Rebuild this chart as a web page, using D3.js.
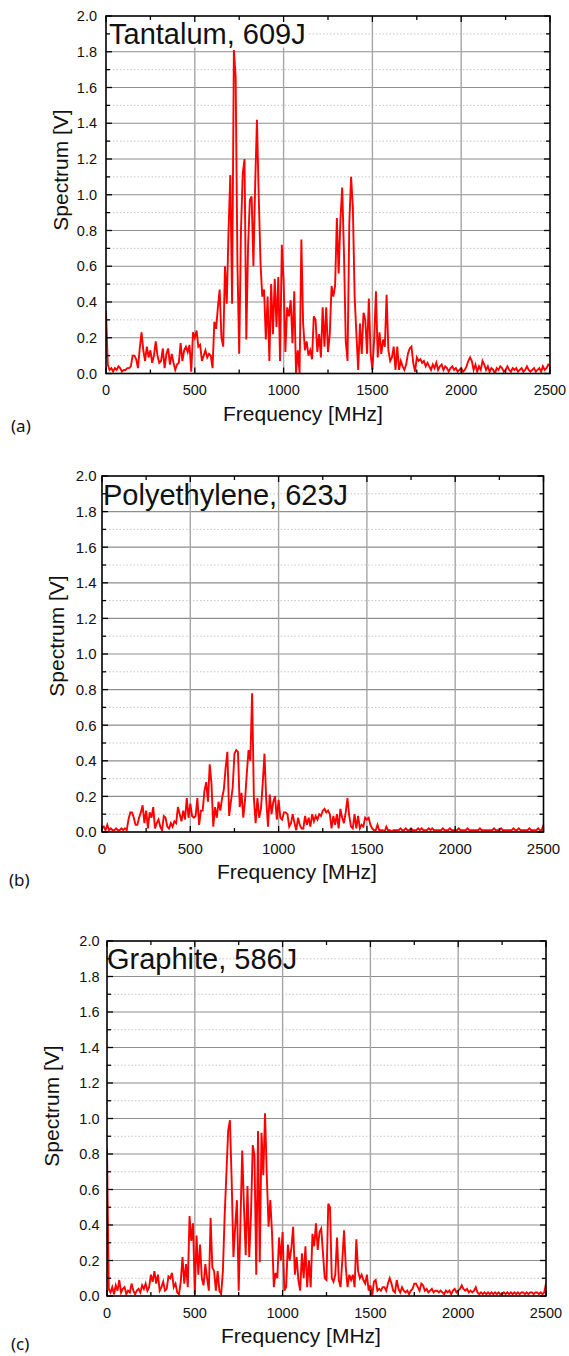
<!DOCTYPE html>
<html><head><meta charset="utf-8">
<script src="https://cdn.jsdelivr.net/npm/d3@7"></script>
<style>
body{margin:0;background:#fff}
svg{display:block}
text{font-family:"Liberation Sans",Arial,sans-serif;fill:#111}
</style>
</head><body>
<svg id="chart" width="569" height="1356"></svg>
<script>
// ---------------- DATA (spectrum values every 10 MHz, 0..2500 MHz) ----------------
const freqStepMHz = 10;

const tantalum = [
 0.35,0.05,0.02,0.03,0.01,0.03,0.02,0.04,0.03,0.01,
 0.02,0.02,0.03,0.03,0.04,0.10,0.10,0.08,0.03,0.14,
 0.23,0.13,0.07,0.15,0.09,0.13,0.06,0.10,0.18,0.10,
 0.06,0.07,0.14,0.03,0.11,0.14,0.05,0.11,0.06,0.02,
 0.05,0.06,0.17,0.07,0.13,0.15,0.12,0.16,0.01,0.23,
 0.20,0.24,0.15,0.16,0.07,0.10,0.13,0.09,0.11,0.10,
 0.03,0.29,0.25,0.37,0.47,0.20,0.15,0.60,0.39,0.80,
 1.11,0.39,1.81,1.66,0.62,0.11,0.80,1.12,1.20,0.19,
 0.71,0.97,0.99,0.60,1.06,1.42,0.99,0.62,0.43,0.47,
 0.19,0.43,0.07,0.50,0.22,0.53,0.26,0.54,0.07,0.72,
 0.52,0.12,0.37,0.32,0.41,0.17,0.46,0.00,0.13,0.00,
 0.75,0.28,0.13,0.18,0.10,0.13,0.08,0.32,0.30,0.12,
 0.22,0.09,0.37,0.15,0.37,0.12,0.22,0.49,0.43,0.49,
 0.87,0.56,0.86,1.04,0.67,0.18,0.07,0.84,1.10,0.93,
 0.43,0.22,0.02,0.28,0.11,0.34,0.30,0.11,0.42,0.11,
 0.02,0.19,0.46,0.09,0.23,0.11,0.19,0.15,0.44,0.13,
 0.07,0.09,0.15,0.02,0.15,0.02,0.07,0.04,0.02,0.05,
 0.11,0.14,0.15,0.06,0.01,0.09,0.07,0.08,0.06,0.07,
 0.04,0.06,0.04,0.02,0.05,0.03,0.06,0.02,0.04,0.05,
 0.02,0.04,0.03,0.01,0.03,0.04,0.02,0.03,0.01,0.02,
 0.03,0.01,0.02,0.04,0.07,0.09,0.07,0.02,0.05,0.01,
 0.04,0.02,0.07,0.05,0.02,0.04,0.01,0.03,0.02,0.00,
 0.03,0.02,0.04,0.03,0.01,0.02,0.04,0.02,0.01,0.03,
 0.02,0.03,0.01,0.02,0.03,0.01,0.02,0.04,0.02,0.01,
 0.02,0.03,0.01,0.02,0.03,0.01,0.04,0.02,0.03,0.05,
 0.04
];

const polyethylene = [
 0.02,0.03,0.01,0.04,0.01,0.02,0.01,0.01,0.02,0.01,
 0.01,0.02,0.01,0.02,0.01,0.07,0.11,0.11,0.08,0.04,
 0.04,0.08,0.11,0.15,0.05,0.12,0.02,0.11,0.08,0.14,
 0.02,0.05,0.07,0.03,0.01,0.09,0.08,0.03,0.02,0.05,
 0.03,0.06,0.05,0.14,0.10,0.06,0.12,0.07,0.19,0.08,
 0.16,0.09,0.08,0.09,0.19,0.04,0.12,0.12,0.23,0.28,
 0.17,0.38,0.27,0.03,0.14,0.08,0.17,0.12,0.19,0.24,
 0.36,0.45,0.09,0.17,0.25,0.44,0.46,0.45,0.14,0.22,
 0.08,0.18,0.33,0.46,0.40,0.78,0.19,0.05,0.19,0.08,
 0.13,0.27,0.44,0.18,0.03,0.21,0.10,0.17,0.20,0.07,
 0.18,0.08,0.07,0.11,0.11,0.10,0.03,0.05,0.10,0.05,
 0.01,0.08,0.04,0.02,0.02,0.09,0.04,0.08,0.03,0.10,
 0.06,0.09,0.07,0.10,0.09,0.12,0.13,0.11,0.12,0.10,
 0.02,0.09,0.04,0.10,0.02,0.13,0.08,0.05,0.11,0.19,
 0.09,0.03,0.02,0.10,0.02,0.09,0.02,0.04,0.03,0.08,
 0.07,0.08,0.04,0.02,0.01,0.01,0.04,0.01,0.01,0.01,
 0.00,0.03,0.01,0.01,0.00,0.01,0.01,0.01,0.01,0.02,
 0.01,0.01,0.02,0.01,0.01,0.02,0.01,0.01,0.01,0.02,
 0.01,0.02,0.01,0.01,0.01,0.02,0.01,0.02,0.01,0.01,
 0.01,0.01,0.01,0.02,0.01,0.01,0.01,0.02,0.01,0.01,
 0.01,0.01,0.02,0.01,0.01,0.01,0.01,0.02,0.01,0.01,
 0.01,0.01,0.01,0.01,0.02,0.01,0.01,0.01,0.01,0.01,
 0.01,0.01,0.02,0.01,0.01,0.01,0.02,0.01,0.01,0.01,
 0.01,0.01,0.01,0.02,0.01,0.01,0.02,0.01,0.01,0.01,
 0.01,0.01,0.02,0.01,0.01,0.01,0.01,0.02,0.01,0.01,
 0.04
];

const graphite = [
 0.83,0.04,0.02,0.05,0.01,0.06,0.03,0.09,0.02,0.04,
 0.05,0.01,0.03,0.02,0.07,0.03,0.01,0.03,0.04,0.02,
 0.06,0.04,0.07,0.03,0.05,0.12,0.08,0.14,0.07,0.12,
 0.03,0.05,0.08,0.03,0.04,0.11,0.10,0.13,0.05,0.07,
 0.02,0.01,0.08,0.22,0.07,0.18,0.05,0.45,0.31,0.41,
 0.01,0.34,0.12,0.29,0.10,0.06,0.18,0.10,0.03,0.44,
 0.16,0.14,0.03,0.14,0.03,0.01,0.14,0.45,0.69,0.93,
 0.99,0.65,0.22,0.39,0.54,0.03,0.42,0.82,0.50,0.23,
 0.62,0.22,0.46,0.85,0.79,0.12,0.93,0.19,0.92,0.68,
 1.03,0.68,0.39,0.54,0.35,0.05,0.13,0.10,0.33,0.20,
 0.36,0.03,0.05,0.29,0.20,0.27,0.39,0.12,0.22,0.09,
 0.03,0.24,0.10,0.28,0.05,0.20,0.05,0.35,0.28,0.41,
 0.26,0.36,0.38,0.24,0.10,0.09,0.52,0.50,0.10,0.08,
 0.12,0.33,0.09,0.05,0.20,0.37,0.16,0.05,0.12,0.09,
 0.12,0.05,0.32,0.14,0.10,0.12,0.09,0.07,0.12,0.03,
 0.06,0.00,0.08,0.09,0.03,0.04,0.03,0.05,0.05,0.03,
 0.07,0.10,0.07,0.03,0.02,0.09,0.04,0.02,0.05,0.03,
 0.02,0.03,0.01,0.03,0.04,0.07,0.07,0.05,0.03,0.07,
 0.06,0.03,0.04,0.02,0.03,0.04,0.02,0.03,0.03,0.02,
 0.03,0.02,0.01,0.03,0.02,0.03,0.01,0.03,0.04,0.02,
 0.03,0.04,0.06,0.04,0.03,0.04,0.02,0.03,0.02,0.03,
 0.05,0.02,0.01,0.02,0.01,0.02,0.01,0.02,0.01,0.02,
 0.01,0.02,0.01,0.02,0.01,0.01,0.02,0.01,0.02,0.01,
 0.02,0.01,0.02,0.01,0.02,0.01,0.02,0.02,0.01,0.02,
 0.01,0.02,0.02,0.01,0.02,0.02,0.01,0.02,0.01,0.02,
 0.07
];

const panelTitles = ["Tantalum, 609J", "Polyethylene, 623J", "Graphite, 586J"];
const panelTags = ["(a)", "(b)", "(c)"];
const xTickValues = [0, 500, 1000, 1500, 2000, 2500];
const yTickValues = [0.0, 0.2, 0.4, 0.6, 0.8, 1.0, 1.2, 1.4, 1.6, 1.8, 2.0];
const xAxisLabel = "Frequency [MHz]";
const yAxisLabel = "Spectrum [V]";

// ---------------- LAYOUT ----------------
const layout = [
  {L:106, R:550,   T:16,  B:373.5, box:true,  tx:109, ty:44,    ylx:68, yly:170,  xlx:303, xly:420.5, tagx:11, tagy:432,  gap:9,   fs:14.5},
  {L:102, R:543.5, T:476, B:832,   box:false, tx:103, ty:505,   ylx:64, yly:636,  xlx:297, xly:879,   tagx:9,  tagy:886,  gap:5.5, fs:15},
  {L:107, R:546,   T:941, B:1296,  box:false, tx:107, ty:968.5, ylx:59, yly:1106, xlx:301, xly:1343,  tagx:11, tagy:1350, gap:7.5, fs:14.5}
];
const series = [tantalum, polyethylene, graphite];

const svg = d3.select("#chart");
const fmt = d3.format(".1f");

series.forEach((vals, p) => {
  const c = layout[p];
  const x = d3.scaleLinear().domain([0, 2500]).range([c.L, c.R]);
  const y = d3.scaleLinear().domain([0, 2]).range([c.B, c.T]);
  const g = svg.append("g");

  const minorY = d3.range(1, 20, 2).map(k => k / 10);
  g.selectAll(".mg").data(minorY).join("line")
    .attr("x1", c.L).attr("x2", c.R).attr("y1", d => y(d)).attr("y2", d => y(d))
    .attr("stroke", "#c4c4c4").attr("stroke-width", 1).attr("stroke-dasharray", "1.5,2");
  g.selectAll(".hg").data(yTickValues.slice(1, -1)).join("line")
    .attr("x1", c.L).attr("x2", c.R).attr("y1", d => y(d)).attr("y2", d => y(d))
    .attr("stroke", "#8e8e8e").attr("stroke-width", 1.2);
  g.selectAll(".vg").data(xTickValues.slice(1, -1)).join("line")
    .attr("y1", c.T).attr("y2", c.B).attr("x1", d => x(d)).attr("x2", d => x(d))
    .attr("stroke", "#a6a6a6").attr("stroke-width", 1.4);

  const clipId = "clip" + p;
  svg.append("clipPath").attr("id", clipId).append("rect")
    .attr("x", c.L).attr("y", c.T).attr("width", c.R - c.L).attr("height", c.B - c.T);
  const line = d3.line().x((d, i) => x(i * freqStepMHz)).y(d => y(d));
  g.append("path").datum(vals).attr("d", line).attr("clip-path", `url(#${clipId})`)
    .attr("fill", "none").attr("stroke", "#ff0000").attr("stroke-width", 1.9)
    .attr("stroke-linejoin", "miter");

  const tg = g.append("g");
  const tt = tg.append("text").attr("x", c.tx).attr("y", c.ty)
    .attr("font-size", 29).text(panelTitles[p]);
  if (c.box) {
    const bb = tt.node().getBBox();
    tg.insert("rect", "text").attr("x", c.L + 1).attr("y", c.T + 1)
      .attr("width", bb.x + bb.width + 2 - c.L - 1).attr("height", c.ty + 3.5 - c.T - 1)
      .attr("fill", "#fff");
  }

  const xt = d3.range(0, 2501, 250);
  const yt = d3.range(0, 21).map(k => k / 10);
  const tk = g.append("g").attr("stroke", "#000").attr("stroke-width", 1.3);
  xt.forEach(v => {
    const len = (v % 500 === 0) ? 6 : 4;
    tk.append("line").attr("x1", x(v)).attr("x2", x(v)).attr("y1", c.B).attr("y2", c.B - len);
    tk.append("line").attr("x1", x(v)).attr("x2", x(v)).attr("y1", c.T).attr("y2", c.T + len);
  });
  yt.forEach((v, k) => {
    const len = (k % 2 === 0) ? 6 : 4;
    tk.append("line").attr("x1", c.L).attr("x2", c.L + len).attr("y1", y(v)).attr("y2", y(v));
    tk.append("line").attr("x1", c.R).attr("x2", c.R - len).attr("y1", y(v)).attr("y2", y(v));
  });

  g.append("rect").attr("x", c.L).attr("y", c.T).attr("width", c.R - c.L).attr("height", c.B - c.T)
    .attr("fill", "none").attr("stroke", "#000").attr("stroke-width", 1.6);

  g.selectAll(".xl").data(xTickValues).join("text")
    .attr("x", d => x(d)).attr("y", c.B + 21.5).attr("text-anchor", "middle")
    .attr("font-size", c.fs).text(d => d);
  g.selectAll(".yl").data(yTickValues).join("text")
    .attr("x", c.L - c.gap).attr("y", d => y(d)).attr("dy", "0.36em").attr("text-anchor", "end")
    .attr("font-size", c.fs).text(d => fmt(d));

  g.append("text").attr("x", c.xlx).attr("y", c.xly).attr("text-anchor", "middle")
    .attr("font-size", 21).text(xAxisLabel);
  g.append("text").attr("transform", `translate(${c.ylx},${c.yly}) rotate(-90)`)
    .attr("text-anchor", "middle").attr("font-size", 21).text(yAxisLabel);

  g.append("text").attr("x", c.tagx).attr("y", c.tagy)
    .style("font-family", "'Noto Sans','Open Sans',sans-serif").attr("font-size", 17)
    .text(panelTags[p]);
});
</script>
</body></html>
